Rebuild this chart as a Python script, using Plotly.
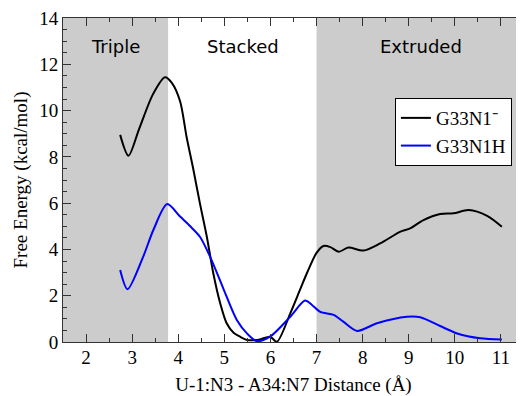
import plotly.graph_objects as go

# G33N1- (black)
x_n1 = [2.74, 2.92, 3.15, 3.45, 3.71, 3.86, 4.04, 4.18, 4.33, 4.47, 4.62, 4.76, 4.91, 5.05, 5.2, 5.34, 5.49, 5.75, 5.99, 6.14, 6.43, 6.64, 6.79, 7.0, 7.15, 7.3, 7.48, 7.69, 8.02, 8.38, 8.82, 9.03, 9.32, 9.68, 9.97, 10.3, 10.7, 11.02]
y_n1 = [8.95, 8.05, 9.2, 10.7, 11.44, 11.2, 10.4, 8.87, 7.43, 5.99, 4.55, 2.97, 1.67, 0.81, 0.4, 0.23, 0.09, 0.1, 0.23, 0.01, 1.24, 2.25, 2.97, 3.85, 4.15, 4.1, 3.9, 4.08, 3.95, 4.26, 4.77, 4.91, 5.27, 5.53, 5.56, 5.70, 5.45, 4.98]

# G33N1H (blue)
x_n1h = [2.74, 2.90, 3.24, 3.46, 3.76, 4.04, 4.26, 4.47, 4.69, 4.98, 5.27, 5.5, 5.70, 5.99, 6.43, 6.75, 6.9, 7.08, 7.37, 7.58, 7.88, 8.31, 8.96, 9.25, 9.68, 10.05, 10.55, 11.02]
y_n1h = [3.11, 2.28, 3.69, 4.84, 5.96, 5.42, 5.0, 4.55, 3.69, 2.3, 0.95, 0.35, 0.04, 0.23, 1.09, 1.79, 1.6, 1.3, 1.17, 0.88, 0.48, 0.81, 1.09, 1.07, 0.69, 0.37, 0.16, 0.11]

x_ticks = [2, 3, 4, 5, 6, 7, 8, 9, 10, 11]
y_ticks = [0, 2, 4, 6, 8, 10, 12, 14]

regions = ["Triple", "Stacked", "Extruded"]
region_x = [2.63, 5.40, 9.27]
region_y = 12.76
shade_spans = [(1.5, 3.78), (7.0, 11.5)]

SERIF = "Liberation Serif, Times New Roman, Times, serif"

fig = go.Figure()
for x0, x1 in shade_spans:
    fig.add_shape(type="rect", xref="x", yref="y", x0=x0, x1=x1, y0=0, y1=14,
                  fillcolor="#cccccc", line_width=0, layer="below")

fig.add_trace(go.Scatter(x=x_n1, y=y_n1, mode="lines", name="G33N1⁻",
                         line=dict(color="black", width=2, shape="spline", smoothing=0.8)))
fig.add_trace(go.Scatter(x=x_n1h, y=y_n1h, mode="lines", name="G33N1H",
                         line=dict(color="#0000ff", width=2, shape="spline", smoothing=0.8)))

for t, xv in zip(regions, region_x):
    fig.add_annotation(x=xv, y=region_y, text=t, showarrow=False,
                       font=dict(family="DejaVu Sans", size=18, color="black"))

axis_common = dict(showgrid=False, zeroline=False, showline=True, linecolor="#333333",
                   linewidth=1, ticks="inside", ticklen=8, tickcolor="#333333", mirror="ticks",
                   ticklabeloverflow="allow", automargin=False,
                   tickfont=dict(family=SERIF, size=19, color="black"))

fig.update_xaxes(range=[1.5, 11.5], tickvals=x_ticks, ticklabelstandoff=-2,
                 minor=dict(dtick=0.5, ticks="inside", ticklen=4, tickcolor="#333333"),
                 title=dict(text="U-1:N3 - A34:N7 Distance (Å)",
                            font=dict(family=SERIF, size=19, color="black"), standoff=22),
                 **axis_common)
fig.update_yaxes(range=[0, 14], tickvals=y_ticks,
                 minor=dict(dtick=0.5, ticks="inside", ticklen=4, tickcolor="#333333"),
                 title=dict(text="Free Energy (kcal/mol)",
                            font=dict(family=SERIF, size=19, color="black"), standoff=6),
                 **axis_common)

fig.update_layout(
    width=516, height=388,
    margin=dict(l=55, r=0, t=10, b=54),
    plot_bgcolor="white", paper_bgcolor="white",
    legend=dict(x=0.72, y=0.753, xanchor="left", yanchor="top",
                bgcolor="white", bordercolor="black", borderwidth=1,
                font=dict(family=SERIF, size=19, color="black"),
                tracegroupgap=0, itemwidth=30),
)

fig.write_html("out.html")
